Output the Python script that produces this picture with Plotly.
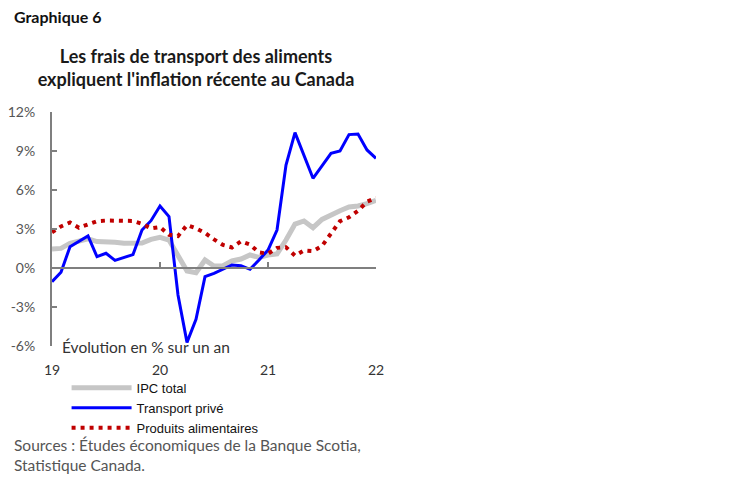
import plotly.graph_objects as go

# Monthly data, Jan 2019 .. Jan 2022 (year-over-year % change)
months = [2019 + i / 12 for i in range(37)]

ipc_total = [1.46, 1.51, 1.9, 2.1, 2.25, 2.03, 2.03, 1.98, 1.9, 1.88, 1.92, 2.2,
             2.36, 2.15, 0.87, -0.23, -0.36, 0.62, 0.15, 0.18, 0.54, 0.69, 1.0, 0.82,
             1.0, 1.08, 2.15, 3.38, 3.62, 3.1, 3.74, 4.13, 4.41, 4.69, 4.77, 4.95, 5.2]

transport_prive = [-1.05, -0.33, 1.64, 2.05, 2.46, 0.87, 1.13, 0.59, 0.8, 1.03, 2.92, 3.64,
                   4.77, 3.95, -2.08, -5.72, -3.95, -0.67, -0.41, -0.1, 0.23, 0.18, -0.1, 0.62,
                   1.38, 2.92, 7.92, 10.41, 8.65, 6.9, 7.85, 8.82, 9.0, 10.26, 10.31, 9.08, 8.44]

produits_alimentaires = [2.75, 3.2, 3.5, 3.1, 3.35, 3.6, 3.65, 3.62, 3.62, 3.62, 3.4, 3.05,
                         3.15, 2.55, 2.45, 3.3, 3.05, 2.7, 2.2, 1.77, 1.58, 2.05, 1.8, 1.2,
                         1.1, 1.55, 1.6, 0.95, 1.35, 1.3, 1.7, 2.7, 3.6, 3.9, 4.4, 5.1, 5.4]

year_ticks = [2019, 2020, 2021, 2022]
year_labels = ["19", "20", "21", "22"]
y_ticks = [-6, -3, 0, 3, 6, 9, 12]
y_labels = ["-6%", "-3%", "0%", "3%", "6%", "9%", "12%"]

fig = go.Figure()
fig.add_trace(go.Scatter(x=months, y=ipc_total, mode="lines", name="IPC total",
                         line=dict(color="#C6C6C6", width=5), cliponaxis=False))
fig.add_trace(go.Scatter(x=months, y=transport_prive, mode="lines", name="Transport privé",
                         line=dict(color="#0000FF", width=3), cliponaxis=False))
fig.add_trace(go.Scatter(x=months, y=produits_alimentaires, mode="lines", name="Produits alimentaires",
                         line=dict(color="#C00000", width=4, dash="4px,5px"), cliponaxis=False))

font_main = "Lato, 'Open Sans', sans-serif"

# page body has an 8px margin: figure is laid out in a 742x471 box offset by (8, 8)
W, H = 742, 471
L, T, R, B = 44, 104, 374, 133
PW, PH = W - L - R, H - T - B  # 324 x 234

fig.update_layout(
    width=W, height=H,
    paper_bgcolor="white", plot_bgcolor="white",
    margin=dict(l=L, r=R, t=T, b=B, autoexpand=False),
    showlegend=True,
    legend=dict(x=0.045, y=-0.115, xanchor="left", yanchor="top",
                font=dict(family="'Liberation Sans', Arial, sans-serif", size=13, color="#111111"),
                bgcolor="rgba(0,0,0,0)", tracegroupgap=0, itemwidth=60),
    title=dict(text="<b>Les frais de transport des aliments<br>expliquent l'inflation récente au Canada</b>",
               x=(196 - 8) / W, xref="container", xanchor="center",
               y=1 - 55 / H, yref="container", yanchor="top",
               font=dict(family=font_main, size=18, color="#1a1a1a")),
    xaxis=dict(range=[2019, 2022], tickvals=year_ticks, ticktext=year_labels,
               showline=False, showgrid=False, zeroline=False, ticks="",
               ticklabelstandoff=14, automargin=False,
               tickfont=dict(family=font_main, size=14, color="#333333")),
    xaxis2=dict(range=[2019, 2022], overlaying="x", anchor="free", position=1 / 3,
                tickvals=year_ticks, showticklabels=False, showline=True,
                linecolor="#7f7f7f", linewidth=2, ticks="inside", ticklen=5,
                tickcolor="#7f7f7f", tickwidth=2, showgrid=False, zeroline=False),
    yaxis=dict(range=[-6, 12], tickvals=y_ticks, ticktext=y_labels,
               showline=True, linecolor="#7f7f7f", linewidth=2,
               ticks="inside", ticklen=5, tickcolor="#7f7f7f", tickwidth=2,
               showgrid=False, zeroline=False, ticklabelstandoff=12, automargin=False,
               tickfont=dict(family=font_main, size=14, color="#555555")),
    annotations=[
        dict(text="<b>Graphique 6</b>", xref="paper", yref="paper",
             x=-40 / PW, y=1 + 96 / PH, xanchor="left", yanchor="middle", showarrow=False,
             font=dict(family=font_main, size=16, color="#111111")),
        dict(text="Évolution en % sur un an", xref="paper", yref="paper",
             x=8 / PW, y=0, xanchor="left", yanchor="middle", yshift=-1, showarrow=False,
             font=dict(family=font_main, size=15.5, color="#333333")),
        dict(text="Sources : Études économiques de la Banque Scotia,<br>Statistique Canada.",
             xref="paper", yref="paper", x=-40 / PW, y=-(88 / PH), xanchor="left", yanchor="top",
             align="left", showarrow=False,
             font=dict(family=font_main, size=15.5, color="#555555")),
    ],
)
# invisible trace to activate the zero-line axis xaxis2
fig.add_trace(go.Scatter(x=[2019], y=[0], xaxis="x2", mode="markers", showlegend=False,
                         marker=dict(opacity=0), hoverinfo="skip"))

fig.write_html("out.html")
